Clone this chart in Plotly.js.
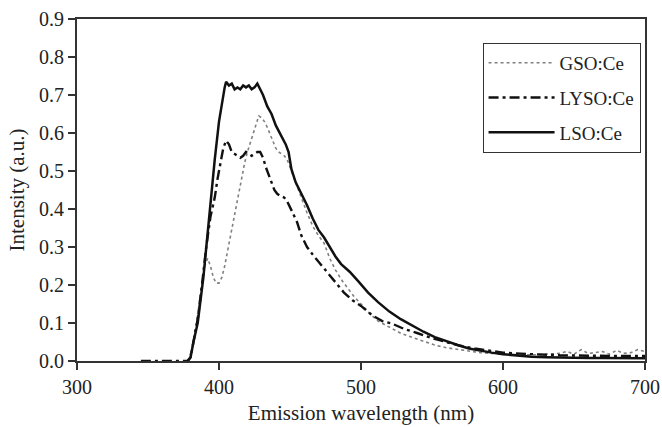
<!DOCTYPE html>
<html>
<head>
<meta charset="utf-8">
<script src="https://cdn.plot.ly/plotly-3.0.1.min.js"></script>
<style>html,body{margin:0;padding:0;background:#fff;}#chart{width:662px;height:427px;}</style>
</head>
<body>
<div id="chart"></div>
<script>
// GSO:Ce
var gsoX = [378,381,384,387,390,392,394,396,398,400,402,404,406,408,410,412,414,416,418,420,422,424,426,428,430,432,434,436,438,440,442,444,446,448,450,454,458,462,466,470,474,478,482,486,490,495,500,506,512,520,528,536,544,552,560,568,576,584,592,600,610,620,630,640,645,650,655,660,665,670,675,680,685,690,695,700];
var gsoY = [0,0.03,0.10,0.18,0.25,0.27,0.25,0.22,0.205,0.205,0.22,0.25,0.29,0.33,0.36,0.41,0.45,0.49,0.52,0.55,0.575,0.60,0.62,0.645,0.64,0.63,0.615,0.595,0.575,0.56,0.55,0.545,0.54,0.53,0.51,0.47,0.425,0.39,0.355,0.33,0.31,0.27,0.24,0.215,0.195,0.17,0.15,0.125,0.105,0.088,0.073,0.062,0.052,0.042,0.035,0.03,0.025,0.022,0.02,0.018,0.017,0.016,0.018,0.02,0.025,0.018,0.03,0.02,0.022,0.025,0.018,0.028,0.02,0.022,0.03,0.025];
// LYSO:Ce
var lysoX = [345,350,360,370,378,380,382,385,388,391,394,396,397,399,401,403,405,407,409,411,413,415,417,419,421,423,425,427,429,431,433,435,437,439,441,443,446,448,451,455,458,462,466,470,476,481,488,494,500,508,515,522,530,540,550,560,570,580,590,600,620,640,660,680,700];
var lysoY = [0,0,0,0,0,0.01,0.05,0.11,0.20,0.30,0.38,0.41,0.43,0.48,0.52,0.56,0.58,0.57,0.55,0.545,0.54,0.535,0.54,0.55,0.545,0.54,0.545,0.55,0.55,0.535,0.51,0.49,0.47,0.45,0.44,0.435,0.43,0.42,0.397,0.365,0.33,0.30,0.28,0.262,0.235,0.213,0.18,0.16,0.145,0.12,0.105,0.098,0.085,0.073,0.06,0.05,0.04,0.033,0.027,0.022,0.018,0.015,0.014,0.014,0.013];
// LSO:Ce
var lsoX = [378,380,382,385,389,391,394,397,400,402,404,405,407,409,411,413,415,417,419,421,423,425,427,429,431,434,437,440,444,447,449,451,454,458,462,466,470,474,478,482,486,492,498,505,512,520,528,536,544,552,560,568,576,584,592,600,610,620,630,640,650,660,670,680,690,700];
var lsoY = [0,0.01,0.05,0.10,0.22,0.30,0.41,0.53,0.63,0.68,0.72,0.735,0.725,0.73,0.715,0.72,0.715,0.725,0.72,0.725,0.715,0.72,0.73,0.715,0.70,0.67,0.65,0.62,0.59,0.57,0.55,0.505,0.47,0.44,0.41,0.375,0.345,0.325,0.30,0.275,0.255,0.235,0.21,0.18,0.155,0.13,0.11,0.093,0.077,0.063,0.052,0.042,0.033,0.027,0.022,0.018,0.014,0.011,0.01,0.009,0.009,0.008,0.008,0.008,0.007,0.007];

var names = ["GSO:Ce","LYSO:Ce","LSO:Ce"];
var xTicks = [300,400,500,600,700];
var yTicks = [0,0.1,0.2,0.3,0.4,0.5,0.6,0.7,0.8,0.9];

var font = "Liberation Serif";
var traces = [
  {x: gsoX, y: gsoY, name: names[0], mode: "lines", legendgroup: "a",
   line: {color: "#808080", width: 1.6, dash: "dot"}},
  {x: lysoX, y: lysoY, name: names[1], mode: "lines", legendgroup: "b",
   line: {color: "#111", width: 2.4, dash: "10px,4px,3px,4px"}},
  {x: lsoX, y: lsoY, name: names[2], mode: "lines", legendgroup: "c",
   line: {color: "#111", width: 2.5}}
];
var layout = {
  width: 662, height: 427,
  margin: {l: 77, r: 17, t: 19, b: 66},
  paper_bgcolor: "#fff", plot_bgcolor: "#fff",
  font: {family: font, color: "#222", size: 20},
  showlegend: true,
  legend: {x: 0.714, y: 0.93, xanchor: "left", yanchor: "top",
    bordercolor: "#333", borderwidth: 1, bgcolor: "#fff",
    font: {family: font, size: 19, color: "#222"},
    itemwidth: 66, tracegroupgap: 7},
  xaxis: {range: [300, 700], tickvals: xTicks, ticktext: xTicks.map(String),
    ticks: "outside", ticklen: 7, tickwidth: 1.3, tickcolor: "#333",
    showline: true, linecolor: "#333", linewidth: 2, mirror: true,
    showgrid: false, zeroline: false,
    tickfont: {family: font, size: 20, color: "#222"},
    title: {text: "Emission wavelength (nm)", font: {family: font, size: 21, color: "#222"}, standoff: 8}},
  yaxis: {range: [0, 0.9], tickvals: yTicks, tickformat: ".1f",
    ticks: "outside", ticklen: 7, tickwidth: 1.3, tickcolor: "#333",
    showline: true, linecolor: "#333", linewidth: 2, mirror: true,
    showgrid: false, zeroline: false,
    tickfont: {family: font, size: 20, color: "#222"},
    title: {text: "Intensity (a.u.)", font: {family: font, size: 21, color: "#222"}, standoff: 9}}
};
Plotly.newPlot("chart", traces, layout, {displayModeBar: false, staticPlot: true});
</script>
</body>
</html>
